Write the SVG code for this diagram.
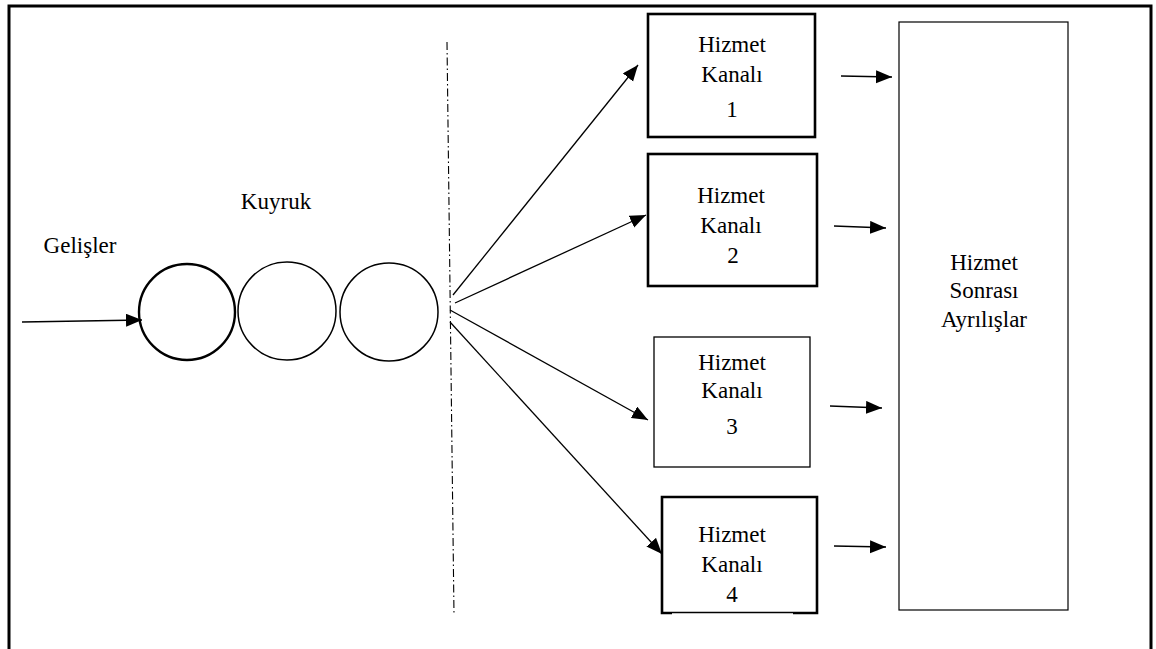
<svg xmlns="http://www.w3.org/2000/svg" width="1156" height="649" viewBox="0 0 1156 649">
<style>
.t{font-family:"Liberation Serif","Times New Roman",serif;font-size:23px;fill:#000;text-anchor:middle}
.thick{fill:#fff;stroke:#000;stroke-width:2.6}
.thin{fill:#fff;stroke:#000;stroke-width:1.3}
.con{stroke:#000;stroke-width:1.3;fill:none}
</style>
<defs>
<marker id="ah" markerUnits="userSpaceOnUse" markerWidth="18" markerHeight="14" refX="16" refY="6.5" orient="auto">
<path d="M0,0 L16,6.5 L0,13 z" fill="#000"/>
</marker>
</defs>
<rect width="1156" height="649" fill="#fff"/>
<path d="M9,649 L9,6 L1151,6 L1151,649" fill="none" stroke="#000" stroke-width="3"/>

<g id="label-gelisler"><text class="t" x="80" y="253">Gelişler</text></g>
<g id="label-kuyruk"><text class="t" x="276" y="209">Kuyruk</text></g>

<g id="queue">
<circle cx="187" cy="312" r="48" fill="#fff" stroke="#000" stroke-width="2.4"/>
<circle cx="287" cy="311" r="49" fill="#fff" stroke="#000" stroke-width="1.5"/>
<circle cx="389" cy="312" r="49" fill="#fff" stroke="#000" stroke-width="1.5"/>
</g>

<g id="divider">
<line x1="447" y1="42" x2="454" y2="615" stroke="#000" stroke-width="1.1" stroke-dasharray="8 3 1.5 3"/>
</g>

<g id="kanal1">
<rect x="648" y="14" width="167" height="123" class="thick"/>
<text class="t" x="732" y="52">Hizmet</text>
<text class="t" x="732" y="82">Kanalı</text>
<text class="t" x="732" y="117">1</text>
</g>
<g id="kanal2">
<rect x="648" y="154" width="169" height="132" class="thick"/>
<text class="t" x="731" y="203">Hizmet</text>
<text class="t" x="731" y="233">Kanalı</text>
<text class="t" x="733" y="263">2</text>
</g>
<g id="kanal3">
<rect x="654" y="337" width="156" height="130" class="thin"/>
<text class="t" x="732" y="370">Hizmet</text>
<text class="t" x="732" y="398">Kanalı</text>
<text class="t" x="732" y="434">3</text>
</g>
<g id="kanal4">
<rect x="662" y="497" width="155" height="116" fill="#fff" stroke="none"/>
<path d="M672,613 L662,613 L662,497 L817,497 L817,613 L793,613" fill="none" stroke="#000" stroke-width="2.6"/>
<line x1="672" y1="612.5" x2="793" y2="612.5" stroke="#000" stroke-width="1.6"/>
<text class="t" x="732" y="542">Hizmet</text>
<text class="t" x="732" y="572">Kanalı</text>
<text class="t" x="732" y="602">4</text>
</g>
<g id="ayrilislar">
<rect x="899" y="22" width="169" height="588" fill="#fff" stroke="#000" stroke-width="1.2"/>
<text class="t" x="984" y="270">Hizmet</text>
<text class="t" x="984" y="298">Sonrası</text>
<text class="t" x="984" y="327">Ayrılışlar</text>
</g>

<g id="connectors">
<line class="con" x1="22" y1="322" x2="142" y2="320" marker-end="url(#ah)"/>
<line class="con" x1="453" y1="295" x2="638" y2="65" marker-end="url(#ah)"/>
<line class="con" x1="455" y1="303" x2="646" y2="215" marker-end="url(#ah)"/>
<line class="con" x1="450" y1="310" x2="648" y2="420" marker-end="url(#ah)"/>
<line class="con" x1="450" y1="322" x2="662" y2="554" marker-end="url(#ah)"/>
<line class="con" x1="841" y1="76" x2="892" y2="77" marker-end="url(#ah)"/>
<line class="con" x1="834" y1="226" x2="886" y2="228" marker-end="url(#ah)"/>
<line class="con" x1="830" y1="406" x2="882" y2="408" marker-end="url(#ah)"/>
<line class="con" x1="834" y1="546" x2="886" y2="547" marker-end="url(#ah)"/>
</g>
</svg>
